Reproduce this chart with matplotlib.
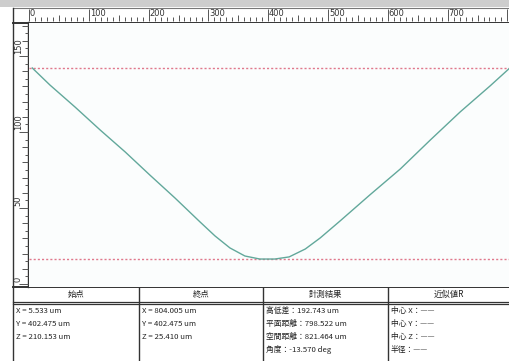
import numpy as np
import matplotlib
matplotlib.use("Agg")
import matplotlib.pyplot as plt
from matplotlib.patches import Rectangle

# ---- data (profile) ----
profile_x = [5.5, 35, 77, 119, 161, 202, 244, 286, 311, 336, 361, 386, 411,
             435, 462, 487, 520, 570, 621, 671, 721, 771, 804]
profile_z = [142.1, 130.9, 116.4, 101.3, 86.8, 71.7, 56.6, 40.8, 31.6, 23.7,
             18.4, 16.4, 16.4, 17.8, 23.0, 30.3, 41.4, 58.6, 75.7, 94.7,
             113.2, 130.3, 142.1]
ref_levels = [142.1, 16.4]
x_ticks_major = [0, 100, 200, 300, 400, 500, 600, 700]
y_ticks_major = [0, 50, 100, 150]

table_headers = ["始点", "終点", "計測結果", "近似値R"]
col_start = ["X = 5.533 um", "Y = 402.475 um", "Z = 210.153 um"]
col_end = ["X = 804.005 um", "Y = 402.475 um", "Z = 25.410 um"]
col_result = ["高低差：192.743 um", "平面距離：798.522 um",
              "空間距離：821.464 um", "角度：-13.570 deg"]
col_circle = ["中心 X：——", "中心 Y：——", "中心 Z：——", "半径：——"]

W, H = 510, 361
XL = (0.0, 804.3)
YL = (-2.0, 171.7)
FONT = ["Noto Sans CJK JP", "DejaVu Sans"]


def box(x0, y0, x1, y1):
    return [x0 / W, 1 - y1 / H, (x1 - x0) / W, (y1 - y0) / H]


fig = plt.figure(figsize=(W / 100, H / 100), dpi=100)
fig.patch.set_facecolor("white")

bg = fig.add_axes([0, 0, 1, 1])
bg.set_xlim(0, W)
bg.set_ylim(H, 0)
bg.axis("off")
bg.set_zorder(0)

# toolbar strip
bg.add_patch(Rectangle((0, 0), W, 7, color="#cdcdcd", lw=0))

# ---- main plot ----
ax = fig.add_axes(box(29, 23, 510, 287))
ax.set_zorder(2)
ax.set_facecolor("#fbfdfd")
ax.set_xlim(*XL)
ax.set_ylim(*YL)
for lv in ref_levels:
    ax.axhline(lv, color="#e0788c", lw=1.0, ls=(0, (1.5, 1.5)))
ax.plot(profile_x, profile_z, color="#62a89b", lw=1.0)
ax.set_xticks([])
ax.set_yticks([])
for s in ax.spines.values():
    s.set_visible(False)

# ---- top ruler ----
rx = fig.add_axes(box(29, 8, 510, 22))
rx.set_zorder(2)
rx.set_xlim(*XL)
rx.set_ylim(0, 1)
rx.axis("off")
for v in np.arange(0, 810, 10):
    if v % 100 == 0:
        h = 0.85
    elif v % 50 == 0:
        h = 0.45
    else:
        h = 0.28
    rx.vlines(v, 0.05, 0.05 + h, color="#555555", lw=0.7)
for v in x_ticks_major:
    rx.text(v + 1.5, 0.62, str(v), ha="left", va="center", fontsize=6,
            color="#333333")

# ---- left ruler ----
ly = fig.add_axes(box(13, 23, 29, 287))
ly.set_zorder(2)
ly.set_ylim(*YL)
ly.set_xlim(0, 1)
ly.axis("off")
for v in np.arange(0, 171, 5):
    if v % 50 == 0:
        h = 0.55
    elif v % 10 == 0:
        h = 0.38
    else:
        h = 0.22
    ly.hlines(v, 0.95 - h, 0.95, color="#555555", lw=0.7)
for v in y_ticks_major:
    ly.text(0.32, v + 1, str(v), rotation=90, rotation_mode="anchor",
            ha="left", va="center", fontsize=6, color="#333333")

# ---- frame lines ----
bg.plot([13, W], [8, 8], color="#777777", lw=0.8)
bg.plot([13, W], [22.5, 22.5], color="#333333", lw=1.4)
bg.plot([13, 13], [8, H], color="#333333", lw=1.0)
bg.plot([28.5, 28.5], [22, 287], color="#333333", lw=1.0)
bg.plot([13, W], [287, 287], color="#333333", lw=1.4)
bg.plot([13, W], [301.5, 301.5], color="#333333", lw=0.9)
bg.plot([13, W], [304, 304], color="#333333", lw=0.9)
for cx in [139, 263, 388]:
    bg.plot([cx, cx], [287, H], color="#333333", lw=1.0)

# ---- table ----
col_left = [13, 139, 263, 388, 510]
for i, hdr in enumerate(table_headers):
    cx = (col_left[i] + col_left[i + 1]) / 2
    bg.text(cx, 294.5, hdr, ha="center", va="center", fontsize=6,
            family=FONT, color="#222222")

row_y = [311, 324, 337, 350]
for j, col in enumerate([col_start, col_end, col_result, col_circle]):
    for k, t in enumerate(col):
        bg.text(col_left[j] + 3, row_y[k], t, ha="left", va="center",
                fontsize=5.6, family=FONT, color="#222222")

fig.savefig("out.png", dpi=100)
